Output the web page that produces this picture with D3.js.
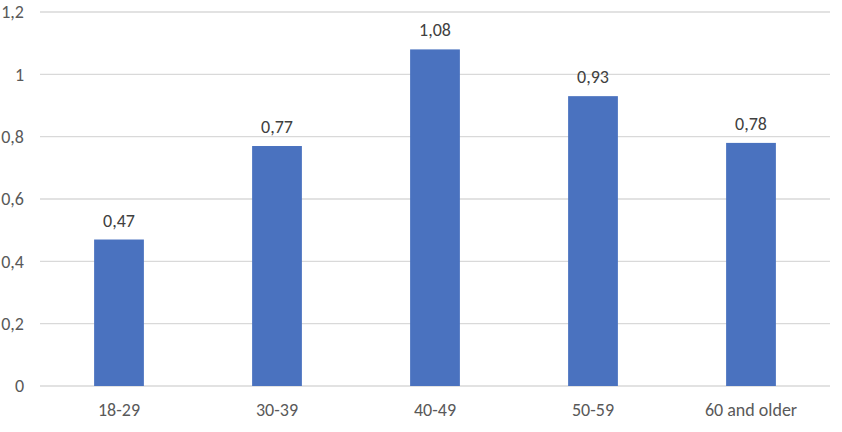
<!DOCTYPE html>
<html>
<head>
<meta charset="utf-8">
<script src="https://cdn.jsdelivr.net/npm/d3@7"></script>
<style>
  html, body { margin: 0; padding: 0; background: #ffffff; }
  svg { display: block; font-family: Carlito, Lato, "Open Sans", sans-serif; }
</style>
</head>
<body>
<svg id="chart" width="842" height="432"></svg>
<script>
const categories = ["18-29", "30-39", "40-49", "50-59", "60 and older"];
const values = [0.47, 0.77, 1.08, 0.93, 0.78];
const yTicks = [0, 0.2, 0.4, 0.6, 0.8, 1, 1.2];

const W = 842, H = 432;
const margin = { left: 40, right: 12, top: 12, bottom: 46 };
const svg = d3.select("#chart");
const fmt = v => String(v).replace(".", ",");
const FONT = "Carlito, Lato, sans-serif";

const x = d3.scaleBand()
  .domain(categories)
  .range([margin.left, W - margin.right])
  .paddingInner(0.685)
  .paddingOuter(0.3425);

const y = d3.scaleLinear()
  .domain([0, 1.2])
  .range([H - margin.bottom, margin.top]);

// gridlines
svg.append("g")
  .selectAll("line")
  .data(yTicks)
  .join("line")
  .attr("x1", margin.left)
  .attr("x2", W - margin.right)
  .attr("y1", d => y(d))
  .attr("y2", d => y(d))
  .attr("stroke", "#d9d9d9")
  .attr("stroke-width", 1.3);

// y axis labels
const yAxis = d3.axisLeft(y).tickValues(yTicks).tickFormat(fmt).tickSize(0).tickPadding(0);
const gy = svg.append("g").attr("transform", `translate(${margin.left - 16},0)`).call(yAxis);
gy.select(".domain").remove();
gy.selectAll("text").attr("fill", "#595959").style("font-size", "18px").style("font-family", FONT);

// x axis labels
const xAxis = d3.axisBottom(x).tickSize(0).tickPadding(0);
const gx = svg.append("g").attr("transform", `translate(0,${y(0) + 17})`).call(xAxis);
gx.select(".domain").remove();
gx.selectAll("text").attr("fill", "#595959").style("font-size", "18px").style("font-family", FONT);

// bars
svg.append("g")
  .selectAll("rect")
  .data(values)
  .join("rect")
  .attr("x", (d, i) => x(categories[i]))
  .attr("width", x.bandwidth())
  .attr("y", d => y(d))
  .attr("height", d => y(0) - y(d))
  .attr("fill", "#4A72BF");

// value labels
svg.append("g")
  .selectAll("text")
  .data(values)
  .join("text")
  .attr("x", (d, i) => x(categories[i]) + x.bandwidth() / 2)
  .attr("y", d => y(d) - 13)
  .attr("text-anchor", "middle")
  .attr("fill", "#404040")
  .style("font-size", "18px")
  .style("font-family", FONT)
  .text(d => fmt(d));
</script>
</body>
</html>
